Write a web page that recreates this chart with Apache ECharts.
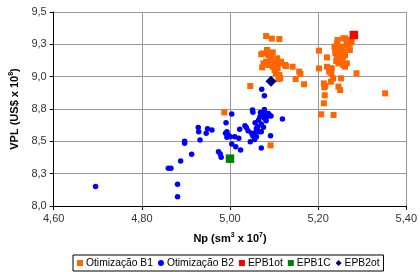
<!DOCTYPE html>
<html>
<head>
<meta charset="utf-8">
<script src="https://cdn.jsdelivr.net/npm/echarts@6/dist/echarts.min.js"></script>
<style>
  html, body { margin: 0; padding: 0; background: #fff; }
  #chart { width: 420px; height: 272px; }
</style>
</head>
<body>
<div id="chart"></div>
<script>
// Otimização B1 (Np, VPL)
const otimB1 = [
  [4.987, 8.724], [5.046, 8.928], [5.092, 8.469],
  [5.082, 9.314], [5.095, 9.294], [5.112, 9.291],
  [5.071, 9.173], [5.075, 9.180], [5.084, 9.206], [5.087, 9.168], [5.093, 9.142], [5.097, 9.188],
  [5.076, 9.103], [5.082, 9.116], [5.087, 9.090], [5.092, 9.129], [5.097, 9.077], [5.101, 9.108],
  [5.107, 9.142], [5.112, 9.103], [5.116, 9.116], [5.073, 9.072], [5.101, 9.052], [5.104, 9.026],
  [5.108, 9.064], [5.112, 9.013], [5.110, 8.982], [5.114, 8.987], [5.125, 9.090], [5.127, 9.082],
  [5.142, 9.077], [5.149, 8.982], [5.157, 9.039], [5.160, 9.021], [5.168, 8.941],
  [5.202, 9.201], [5.202, 9.064], [5.213, 8.948], [5.214, 8.918], [5.216, 8.928], [5.213, 8.794],
  [5.215, 8.856], [5.207, 8.709], [5.220, 9.149], [5.220, 9.077], [5.225, 9.039], [5.228, 9.064],
  [5.230, 9.026], [5.231, 9.064], [5.229, 8.961], [5.234, 8.987], [5.235, 8.704], [5.237, 9.232],
  [5.239, 9.206], [5.243, 9.258], [5.244, 9.284], [5.239, 9.180], [5.243, 9.155], [5.246, 9.219],
  [5.250, 9.193], [5.254, 9.232], [5.241, 9.121], [5.246, 9.103], [5.250, 9.142], [5.254, 9.116],
  [5.257, 9.155], [5.246, 8.923], [5.250, 8.897], [5.252, 8.987], [5.257, 9.090], [5.261, 9.077],
  [5.265, 9.103], [5.257, 9.296], [5.261, 9.296], [5.265, 9.284], [5.265, 9.245], [5.269, 9.219],
  [5.272, 9.258], [5.276, 9.271], [5.272, 9.206], [5.257, 9.193], [5.261, 9.168], [5.287, 9.026],
  [5.352, 8.871]
]

// Otimização B2 (Np, VPL)
const otimB2 = [
  [4.695, 8.150], [4.860, 8.291], [4.866, 8.291], [4.881, 8.168], [4.881, 8.072], [4.888, 8.348],
  [4.897, 8.500], [4.897, 8.485], [4.913, 8.400], [4.928, 8.606], [4.929, 8.575], [4.932, 8.510],
  [4.946, 8.562], [4.949, 8.598], [4.959, 8.588], [4.974, 8.420], [4.978, 8.402], [4.980, 8.376],
  [4.991, 8.644], [4.990, 8.562], [4.993, 8.575], [4.996, 8.549], [4.993, 8.531], [5.004, 8.711],
  [5.001, 8.536], [5.004, 8.479], [5.011, 8.536], [5.013, 8.459], [5.022, 8.593], [5.020, 8.523],
  [5.024, 8.433], [5.034, 8.621], [5.037, 8.606], [5.041, 8.582], [5.046, 8.497], [5.049, 8.562],
  [5.051, 8.742], [5.052, 8.724], [5.052, 8.541], [5.056, 8.515], [5.057, 8.644], [5.060, 8.601],
  [5.063, 8.613], [5.065, 8.665], [5.068, 8.691], [5.069, 8.722], [5.071, 8.448], [5.071, 8.575],
  [5.072, 8.902], [5.075, 8.704], [5.076, 8.608], [5.078, 8.678], [5.078, 8.853], [5.078, 8.747],
  [5.080, 8.716], [5.082, 8.660], [5.084, 8.691], [5.087, 8.716], [5.090, 8.704], [5.092, 8.544],
  [5.093, 8.696], [5.119, 8.673], [5.060, 8.536], [5.066, 8.575], [5.071, 8.634], [5.058, 8.570]
]

const epb1ot = [[5.281, 9.322]]
const epb1c = [[5.000, 8.366]]
const epb2ot = [[5.093, 8.964]]

const xTickLabels = ['4,60', '4,80', '5,00', '5,20', '5,40']
const yTickLabels = ['8,0', '8,3', '8,5', '8,8', '9,0', '9,3', '9,5']

const chart = echarts.init(document.getElementById('chart'))
const font = 'Liberation Sans, Arial, sans-serif'

chart.setOption({
  animation: false,
  textStyle: { fontFamily: font },
  grid: { left: 53, right: 9, top: 12, bottom: 66 },
  xAxis: {
    type: 'value', min: 4.6, max: 5.4, interval: 0.2,
    name: '{b|Np (sm}{s|3}{b| x 10}{s|7}{b|)}',
    nameLocation: 'middle', nameGap: 26,
    nameTextStyle: {
      rich: {
        b: { fontFamily: font, fontSize: 11, fontWeight: 'bold', color: '#000' },
        s: { fontFamily: font, fontSize: 7, fontWeight: 'bold', color: '#000', padding: [0, 0, 7, 0] }
      }
    },
    axisLine: { onZero: false, lineStyle: { color: '#000', width: 1 } },
    axisTick: { show: true, inside: false, length: 4, lineStyle: { color: '#000' } },
    axisLabel: {
      color: '#333', fontSize: 11, margin: 7,
      formatter: (v) => xTickLabels[Math.round((v - 4.6) / 0.2)]
    },
    splitLine: { show: true, lineStyle: { color: '#9a9a9a', width: 1 } }
  },
  yAxis: {
    type: 'value', min: 8, max: 9.5, interval: 0.25,
    name: '{b|VPL (US$ x 10}{s|8}{b|)}',
    nameLocation: 'middle', nameGap: 30, nameRotate: 90,
    nameTextStyle: {
      rich: {
        b: { fontFamily: font, fontSize: 11, fontWeight: 'bold', color: '#000' },
        s: { fontFamily: font, fontSize: 7, fontWeight: 'bold', color: '#000', padding: [0, 0, 7, 0] }
      }
    },
    axisLine: { show: true, onZero: false, lineStyle: { color: '#000', width: 1 } },
    axisTick: { show: true, inside: false, length: 4, lineStyle: { color: '#000' } },
    axisLabel: {
      color: '#333', fontSize: 11, margin: 7,
      formatter: (v) => yTickLabels[Math.round((v - 8) / 0.25)]
    },
    splitLine: { show: true, lineStyle: { color: '#9a9a9a', width: 1 } }
  },
  legend: {
    bottom: 1, left: 73,
    orient: 'horizontal',
    itemWidth: 6, itemHeight: 6, itemGap: 5,
    borderColor: '#000', borderWidth: 1, padding: [3, 4, 3, 4],
    textStyle: { fontFamily: font, fontSize: 10.3, color: '#000', padding: [0, 0, 0, -2] },
    data: [
      { name: 'Otimização B1', icon: 'rect' },
      { name: 'Otimização B2', icon: 'circle' },
      { name: 'EPB1ot', icon: 'rect' },
      { name: 'EPB1C', icon: 'rect' },
      { name: 'EPB2ot', icon: 'diamond' }
    ]
  },
  series: [
    {
      name: 'Otimização B1', type: 'scatter', data: otimB1,
      symbol: 'rect', symbolSize: 6,
      itemStyle: { color: '#FF6600', opacity: 1 }
    },
    {
      name: 'Otimização B2', type: 'scatter', data: otimB2,
      symbol: 'circle', symbolSize: 5.5,
      itemStyle: { color: '#0000FF', opacity: 1 }
    },
    {
      name: 'EPB1ot', type: 'scatter', data: epb1ot,
      symbol: 'rect', symbolSize: 8.5,
      itemStyle: { color: '#FF0000', opacity: 1 }
    },
    {
      name: 'EPB1C', type: 'scatter', data: epb1c,
      symbol: 'rect', symbolSize: 8.5,
      itemStyle: { color: '#008000', opacity: 1 }
    },
    {
      name: 'EPB2ot', type: 'scatter', data: epb2ot,
      symbol: 'diamond', symbolSize: 11,
      itemStyle: { color: '#000080', opacity: 1 }
    }
  ]
})
</script>
</body>
</html>
